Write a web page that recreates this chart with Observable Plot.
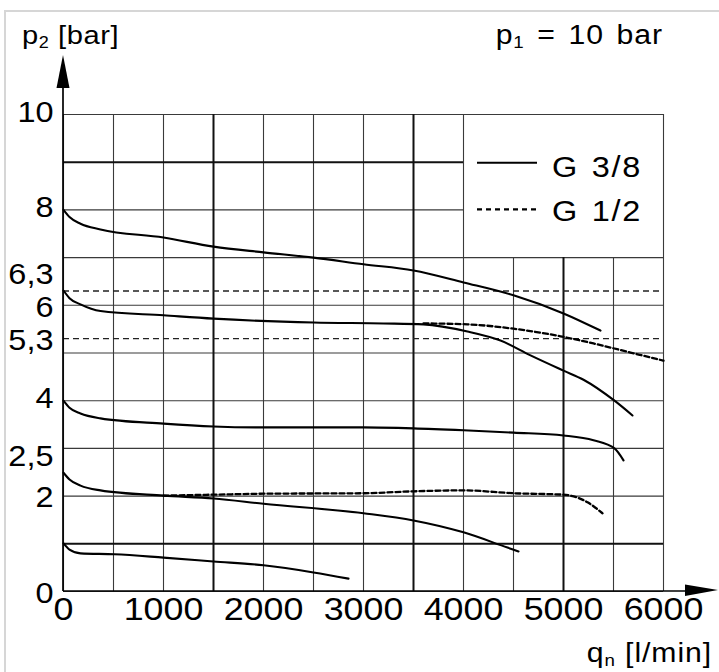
<!DOCTYPE html>
<html>
<head>
<meta charset="utf-8">
<script src="https://cdn.jsdelivr.net/npm/d3@7"></script>
<script src="https://cdn.jsdelivr.net/npm/@observablehq/plot@0.6"></script>
<style>
  html, body { margin: 0; padding: 0; background: #fff; }
  #chart { width: 719px; height: 672px; }
</style>
</head>
<body>
<div id="chart"></div>
<script>
// ---------- data ----------
const xTicks = [0, 1000, 2000, 3000, 4000, 5000, 6000];
const yTicksMain = [4, 8, 10];
const yTicksLower = [0, 2, 5.3, 6];
const yTicksUpper = [2.5, 6.3];
const gridX = [0, 500, 1000, 1500, 2000, 2500, 3000, 3500, 4000, 4500, 5000, 5500, 6000];
const gridXBold = [1500, 3500, 5000];
const gridY = [0, 1, 2, 3, 4, 5, 6, 7, 8, 9, 10];
const gridYBold = [1, 9];
const refLevels = [6.3, 5.3];

// G 3/8 (solid)
const g38_p8 = [[0, 8.0], [60, 7.85], [170, 7.71], [370, 7.59], [1000, 7.42], [1500, 7.23], [2000, 7.11], [2500, 7.0], [3000, 6.86], [3500, 6.73], [4000, 6.48], [4500, 6.21], [5000, 5.83], [5370, 5.47]];
const g38_p63 = [[0, 6.31], [60, 6.15], [170, 6.02], [370, 5.88], [1000, 5.79], [1500, 5.72], [2500, 5.64], [3200, 5.62], [3600, 5.6], [4040, 5.45], [4370, 5.26], [4670, 4.95], [5000, 4.63], [5200, 4.44], [5510, 4.0], [5690, 3.69]];
const g38_p4 = [[0, 4.0], [60, 3.85], [170, 3.73], [370, 3.63], [1000, 3.52], [1500, 3.46], [2000, 3.44], [3000, 3.44], [3500, 3.42], [4000, 3.38], [4500, 3.33], [5000, 3.27], [5300, 3.17], [5510, 3.0], [5600, 2.75]];
const g38_p25 = [[0, 2.49], [60, 2.35], [170, 2.22], [370, 2.12], [1000, 2.01], [1500, 1.95], [2000, 1.84], [3000, 1.64], [3500, 1.49], [4000, 1.24], [4440, 0.92], [4550, 0.84]];
const g38_p1 = [[0, 1.01], [60, 0.88], [170, 0.8], [510, 0.78], [1000, 0.71], [1500, 0.63], [2000, 0.55], [2500, 0.4], [2850, 0.27]];
// G 1/2 (dashed)
const g12_p63 = [[3600, 5.62], [4040, 5.6], [4500, 5.51], [4970, 5.35], [5300, 5.2], [5670, 5.01], [6000, 4.84]];
const g12_p25 = [[1000, 2.01], [1500, 2.03], [2000, 2.05], [3000, 2.06], [3500, 2.1], [4000, 2.12], [4500, 2.06], [5000, 2.03], [5240, 1.87], [5390, 1.64]];

const legendLabels = ["G 3/8", "G 1/2"];
const yTitle = [["p", false], ["2", true], [" [bar]", false]];
const xTitle = [["q", false], ["n", true], [" [l/min]", false]];
const topNote = [["p", false], ["1", true], [" = 10 bar", false]];

// legend box occupies q 4000..6000, p 7..10
const boxQ0 = 4000, boxQ1 = 6000, boxP0 = 7, boxP1 = 10;

// ---------- helpers ----------
const fmt = d => String(d).replace(".", ",");
const S = 1.12; // horizontal text stretch

function addText(g, x, y, parts, {anchor = "start", size = 26, ls = 0, ws = 0} = {}) {
  const t = g.append("text")
    .attr("transform", `translate(${x},${y})`)
    .attr("text-anchor", anchor)
    .attr("font-size", size)
    .attr("fill", "#000");
  if (ls) t.attr("letter-spacing", ls);
  if (ws) t.attr("word-spacing", ws);
  let prevSub = false;
  for (const [s, sub] of parts) {
    const ts = t.append("tspan").text(s).attr("xml:space", "preserve");
    if (sub) { ts.attr("font-size", "0.62em").attr("dy", "0.24em"); }
    else if (prevSub) { ts.attr("dy", "-0.15em"); }
    prevSub = sub;
  }
  return t;
}

function decor(index, {x, y}) {
  const g = d3.create("svg:g");
  g.append("path").attr("d", "M5,672V11H719").attr("fill", "none").attr("stroke", "#d6d6d6").attr("stroke-width", 2);
  g.append("rect").attr("x", x(boxQ0)).attr("y", y(boxP1)).attr("width", x(boxQ1) - x(boxQ0)).attr("height", y(boxP0) - y(boxP1)).attr("fill", "#fff");
  return g.node();
}

function overlay(index, {x, y}) {
  const g = d3.create("svg:g");
  const x0 = x(0), y0 = y(0);
  const tipY = y(10) - 59, tipX = x(6000) + 55;
  g.append("line").attr("x1", x0).attr("x2", x0).attr("y1", y0).attr("y2", tipY + 20).attr("stroke", "#000").attr("stroke-width", 1.7);
  g.append("line").attr("x1", x0).attr("x2", tipX - 20).attr("y1", y0).attr("y2", y0).attr("stroke", "#000").attr("stroke-width", 1.7);
  g.append("path").attr("d", `M${x0},${tipY}L${x0 - 6.5},${tipY + 33}L${x0 + 6.5},${tipY + 33}Z`).attr("fill", "#000");
  g.append("path").attr("d", `M${tipX},${y0 - 1}L${tipX - 33},${y0 - 6.5}L${tipX - 33},${y0 + 5}Z`).attr("fill", "#000");
  addText(g, x0 - 41, y(10) - 70, yTitle, {size: 26, ls: 0.5});
  addText(g, x(6000), y(10) - 70, topNote, {anchor: "end", size: 27, ls: 0.8, ws: 3});
  addText(g, x(6000) + 49, y0 + 71, xTitle, {anchor: "end", size: 27, ls: 0.8});
  const lx0 = x(boxQ0) + 14, lx1 = x(boxQ0) + 74, tx = x(boxQ0) + 89;
  const r1 = y(9) + 1, r2 = y(8);
  g.append("line").attr("x1", lx0).attr("x2", lx1).attr("y1", r1).attr("y2", r1).attr("stroke", "#000").attr("stroke-width", 2);
  g.append("line").attr("x1", lx0).attr("x2", lx1).attr("y1", r2).attr("y2", r2).attr("stroke", "#000").attr("stroke-width", 2.2).attr("stroke-dasharray", "5,4");
  addText(g, tx, r1 + 14, [[legendLabels[0], false]], {size: 29, ls: 1.5, ws: 2});
  addText(g, tx, r2 + 12, [[legendLabels[1], false]], {size: 29, ls: 1.5, ws: 2});
  return g.node();
}

const gridXTop = d => (d > boxQ0 && d < boxQ1) ? boxP0 : boxP1;
const gridYRight = d => (d > boxP0 && d < boxP1) ? boxQ0 : boxQ1;

const lineOpts = {x: d => d[0], y: d => d[1], curve: "monotone-x", stroke: "#000", strokeWidth: 2.1};
const dashOpts = {...lineOpts, strokeWidth: 2.3, strokeDasharray: "5,3"};
const axisCommon = {tickSize: 0, fontSize: 29, label: null, tickFormat: fmt};
const yAxisCommon = {...axisCommon, anchor: "left", tickPadding: 10};

const chart = Plot.plot({
  width: 719,
  height: 672,
  marginLeft: 63,
  marginRight: 56,
  marginTop: 114,
  marginBottom: 81,
  x: {domain: [0, 6000], axis: null},
  y: {domain: [0, 10], axis: null},
  style: {fontFamily: "'Liberation Sans', Arial, Helvetica, sans-serif", background: "#fff", color: "#000", overflow: "visible"},
  marks: [
    decor,
    Plot.ruleX(gridX.filter(d => !gridXBold.includes(d)), {x: d => d, y1: 0, y2: gridXTop, stroke: "#3a3a3a", strokeWidth: 1.1}),
    Plot.ruleY(gridY.filter(d => !gridYBold.includes(d)), {y: d => d, x1: 0, x2: gridYRight, stroke: "#3a3a3a", strokeWidth: 1.1}),
    Plot.ruleX(gridXBold, {x: d => d, y1: 0, y2: gridXTop, stroke: "#111", strokeWidth: 2}),
    Plot.ruleY(gridYBold, {y: d => d, x1: 0, x2: gridYRight, stroke: "#111", strokeWidth: 2}),
    Plot.ruleY(refLevels, {y: d => d, x1: 0, x2: 5970, stroke: "#222", strokeWidth: 1.3, strokeDasharray: "6,4"}),
    Plot.line(g38_p8, lineOpts),
    Plot.line(g38_p63, lineOpts),
    Plot.line(g38_p4, lineOpts),
    Plot.line(g38_p25, lineOpts),
    Plot.line(g38_p1, lineOpts),
    Plot.line(g12_p63, dashOpts),
    Plot.line(g12_p25, dashOpts),
    Plot.axisX({...axisCommon, fontSize: 32, ticks: xTicks, anchor: "bottom", tickPadding: 6}),
    Plot.axisY({...yAxisCommon, ticks: yTicksMain, dy: -2}),
    Plot.axisY({...yAxisCommon, ticks: yTicksLower, dy: 2}),
    Plot.axisY({...yAxisCommon, ticks: yTicksUpper, dy: -16}),
    overlay
  ]
});

chart.querySelectorAll("text").forEach(t => {
  const tr = t.getAttribute("transform");
  if (tr) {
    t.setAttribute("transform", `${tr} scale(${S},1)`);
  } else {
    const x = +t.getAttribute("x") || 0, y = +t.getAttribute("y") || 0;
    t.setAttribute("transform", `translate(${x},${y}) scale(${S},1)`);
    t.setAttribute("x", 0); t.setAttribute("y", 0);
  }
});

document.getElementById("chart").appendChild(chart);
</script>
</body>
</html>
